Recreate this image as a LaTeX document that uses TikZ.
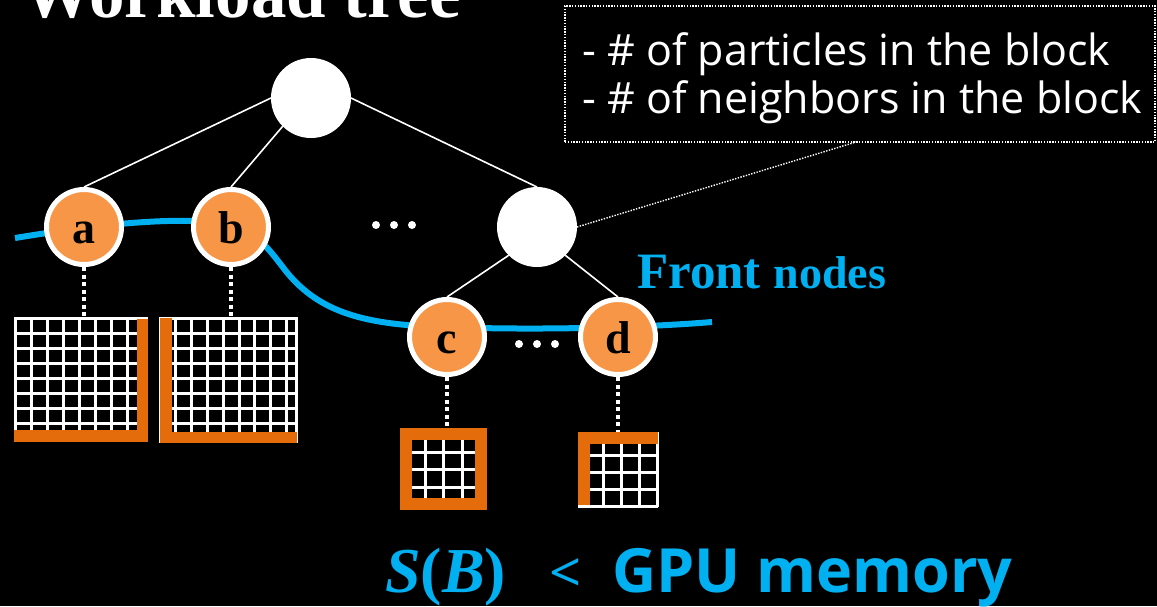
\documentclass[tikz,border=0pt]{standalone}
\usepackage{fontspec}
\setmainfont{Liberation Serif}
\newfontfamily\uifont{Open Sans}
\definecolor{frontblue}{HTML}{00B0F0}
\definecolor{nodeorange}{HTML}{F79646}
\definecolor{barorange}{HTML}{E46C0A}
\begin{document}
\begin{tikzpicture}[x=1pt,y=-1pt,
  inner/.style={circle,fill=white,minimum size=80pt,inner sep=0pt,outer sep=0pt},
  front/.style={circle,fill=nodeorange,draw=white,line width=5pt,minimum size=75pt,
    inner sep=0pt,text=black,font=\bfseries\fontsize{46}{46}\selectfont,
    text height=32pt,text depth=0pt},
  edge/.style={white,line width=1.6pt},
  drop/.style={white,line width=4pt,dash pattern=on 4pt off 3.5pt},
  gridline/.style={white,line width=3pt},
  bar/.style={fill=barorange},
  dotbox/.style={draw=white,line width=1.4pt,dash pattern=on 1.4pt off 1.4pt},
  label/.style={inner sep=0pt,anchor=base west}]

% canvas
\fill[black] (0,0) rectangle (1157,606);
\useasboundingbox (0,0) rectangle (1157,606);

% title
\node[label,text=white,font=\bfseries\fontsize{71}{71}\selectfont] (title) at (22,17) {Workload tree};

% front line
\draw[frontblue,line width=6pt]
  (15,238) .. controls (70,229) and (140,219) .. (200,221)
  .. controls (250,223) and (262,240) .. (285,270)
  .. controls (315,308) and (355,322) .. (420,326)
  .. controls (520,331) and (640,328) .. (712,322);

% tree nodes
\node[inner] (root) at (311,98) {};
\node[inner] (x) at (537,227) {};
\node[front] (a) at (84,227) {a};
\node[front] (b) at (231,227) {b};
\node[front] (c) at (447,337) {c};
\node[front] (d) at (618,337) {d};

% tree edges
\draw[edge] (root.west) -- (a.north);
\draw[edge] (root.south west) -- (b.north);
\draw[edge] (root.east) -- (x.north);
\draw[edge] (x.south west) -- (c.north);
\draw[edge] (x.south east) -- (d.north);

% elided siblings
\foreach \px in {376,394,412} \fill[white] (\px,225) circle[radius=4pt];
\foreach \px in {519,537,555} \fill[white] (\px,344) circle[radius=4pt];

% block of a
\foreach \i in {0,...,8} \draw[gridline] (15+16*\i,317) -- (15+16*\i,442);
\foreach \j in {0,...,8} \draw[gridline] (14,318+15*\j) -- (148,318+15*\j);
\fill[bar] (137,319) rectangle (148,442);
\fill[bar] (14,430) rectangle (148,442);
\coordinate (ga) at (84,317);

% block of b
\foreach \i in {0,...,8} \draw[gridline] (160+15.8*\i,317) -- (160+15.8*\i,443);
\draw[gridline] (296,317) -- (296,443);
\foreach \j in {0,...,8} \draw[gridline] (160,318+15*\j) -- (297,318+15*\j);
\fill[bar] (160,318) rectangle (172,443);
\fill[bar] (160,432) rectangle (297,443);
\coordinate (gb) at (231,317);

% block of c
\foreach \px in {407,425,443,462,480} \draw[gridline] (\px,428) -- (\px,510);
\foreach \py in {434,452,469,487,505} \draw[gridline] (400,\py) -- (487,\py);
\draw[barorange,line width=12pt] (406,434) rectangle (481,504);
\coordinate (gc) at (447,428);

% block of d
\foreach \px in {585,603,621,639,657} \draw[gridline] (\px,432) -- (\px,507);
\foreach \py in {438,455,472,489,506} \draw[gridline] (578,\py) -- (658,\py);
\fill[bar] (578,432) rectangle (658,444);
\fill[bar] (578,432) rectangle (590,505);
\coordinate (gd) at (618,432);

% node-to-block links
\draw[drop] (a.south) -- (ga);
\draw[drop] (b.south) -- (gb);
\draw[drop] (c.south) -- (gc);
\draw[drop] (d.south) -- (gd);

% front label
\node[label,text=frontblue,font=\bfseries] (fn) at (637,288)
  {\fontsize{51}{51}\selectfont Front \fontsize{46}{46}\selectfont nodes};

% block statistics callout
\node[dotbox,minimum width=590pt,minimum height=136pt,inner sep=0pt] (info) at (860,74) {};
\coordinate (infofoot) at (856,142);
\draw[dotbox] (x.east) -- (infofoot);
\node[label,text=white,font=\uifont\fontsize{43}{43}\selectfont] (l1) at (582,65) {- \# of particles in the block};
\node[label,text=white,font=\uifont\fontsize{43}{43}\selectfont] (l2) at (582,113) {- \# of neighbors in the block};

% memory constraint
\node[label,text=frontblue,font=\bfseries\itshape\fontsize{64}{64}\selectfont] (sb) at (385,592)
  {S{\upshape(}B{\upshape)}};
\node[label,text=frontblue,font=\uifont\fontsize{56}{56}\selectfont] (lt) at (549,592) {<};
\node[label,text=frontblue,font=\uifont\bfseries\fontsize{61}{61}\selectfont] (gpu) at (612,592) {GPU memory};
\end{tikzpicture}
\end{document}
